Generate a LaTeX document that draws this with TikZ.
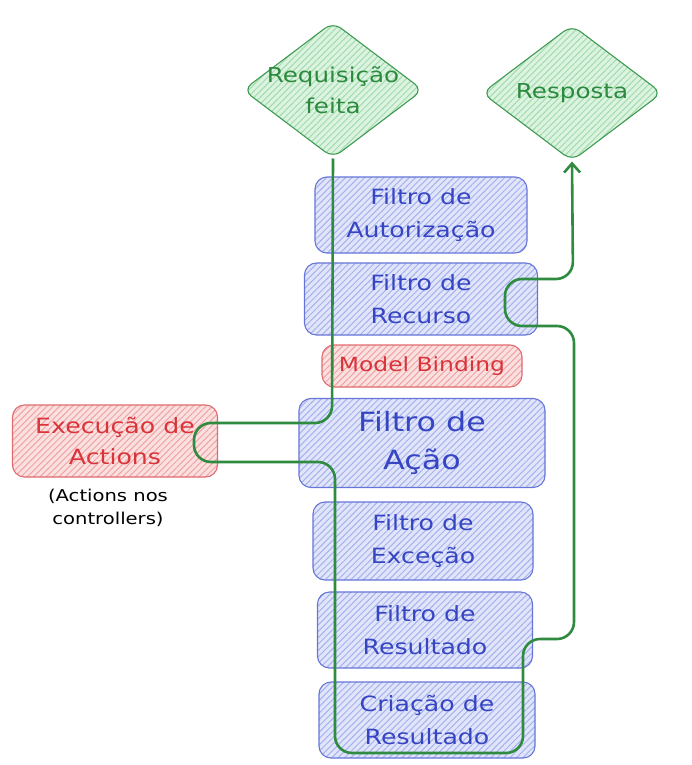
\documentclass[tikz,border=0pt]{standalone}
\usepackage{fontspec}
\setmainfont[FakeStretch=1.2]{DejaVu Sans}
\usetikzlibrary{shapes.geometric,patterns.meta,arrows.meta}
\definecolor{btxt}{HTML}{3645C2}
\definecolor{bline}{HTML}{6675D8}
\definecolor{bhatch}{HTML}{A6B1EE}
\definecolor{bfill}{HTML}{E1E5FA}
\definecolor{rtxt}{HTML}{D9343A}
\definecolor{rline}{HTML}{E06B70}
\definecolor{rhatch}{HTML}{F0A3A5}
\definecolor{rfill}{HTML}{FBE0E0}
\definecolor{gtxt}{HTML}{2B8A3E}
\definecolor{gline}{HTML}{3F9A53}
\definecolor{ghatch}{HTML}{A2DCAB}
\definecolor{gfill}{HTML}{DDF3E1}
\definecolor{flowc}{HTML}{2E8B3F}
\begin{document}
\begin{tikzpicture}[x=1pt,y=-1pt]
  \tikzset{ fb/.style={draw=bline,line width=1.1pt,rounded corners=12pt,preaction={fill=bfill},
      pattern={Lines[angle=45,distance=4.5pt,line width=1pt]},pattern color=bhatch,text=btxt,
      align=center,inner sep=0pt,font=\fontsize{21}{33}\selectfont},
    rb/.style={fb,draw=rline,preaction={fill=rfill},pattern color=rhatch,text=rtxt},
    dia/.style={diamond,draw=gline,line width=1.1pt,rounded corners=10pt,preaction={fill=gfill},
      pattern={Lines[angle=45,distance=4.5pt,line width=1pt]},pattern color=ghatch,text=gtxt,
      align=center,inner sep=-16pt,minimum width=180pt,minimum height=136pt,
      font=\fontsize{20.5}{31}\selectfont},
    flow/.style={draw=flowc,line width=2.6pt,rounded corners=17pt},
  }
  \useasboundingbox (0,0) rectangle (691,765);
  % start and end
  \node[dia] (req) at (333,90) {Requisição\\feita};
  \node[dia] (resp) at (572,93) {Resposta};
  % the filters
  \node[fb,minimum width=212pt,minimum height=76pt] (aut) at (421,215) {Filtro de\\Autorização};
  \node[fb,minimum width=233pt,minimum height=72pt] (rec) at (421,299) {Filtro de\\Recurso};
  \node[rb,minimum width=200pt,minimum height=42pt,font=\fontsize{19.5}{30}\selectfont] (mb) at (422,366) {Model Binding};
  \node[fb,minimum width=246pt,minimum height=89pt,font=\fontsize{26.5}{38}\selectfont] (aca) at (422,443) {Filtro de\\Ação};
  \node[fb,minimum width=220pt,minimum height=78pt] (exc) at (423,541) {Filtro de\\Exceção};
  \node[fb,minimum width=215pt,minimum height=76pt] (res) at (425,630) {Filtro de\\Resultado};
  \node[fb,minimum width=216pt,minimum height=76pt] (cri) at (427,720) {Criação de\\Resultado};
  % the action
  \node[rb,minimum width=205pt,minimum height=72pt,font=\fontsize{21}{31}\selectfont] (act) at (115,441) {Execução de\\Actions};
  \node[align=center,inner sep=0pt,font=\fontsize{16.3}{23}\selectfont] (cap) at (108,508) {(Actions nos\\controllers)};
  % the path of the request
  \draw[flow,-{Straight Barb[length=9pt,width=16pt]}] (req.south) -- (332,423) -- (194,423)
    -- (194,462) -- (335,462) -- (335,753) -- (523,753) -- (523,639) -- (574,639)
    -- (574,326) -- (505,326) -- (505,279) -- (573,279) -- (resp.south);
\end{tikzpicture}
\end{document}
